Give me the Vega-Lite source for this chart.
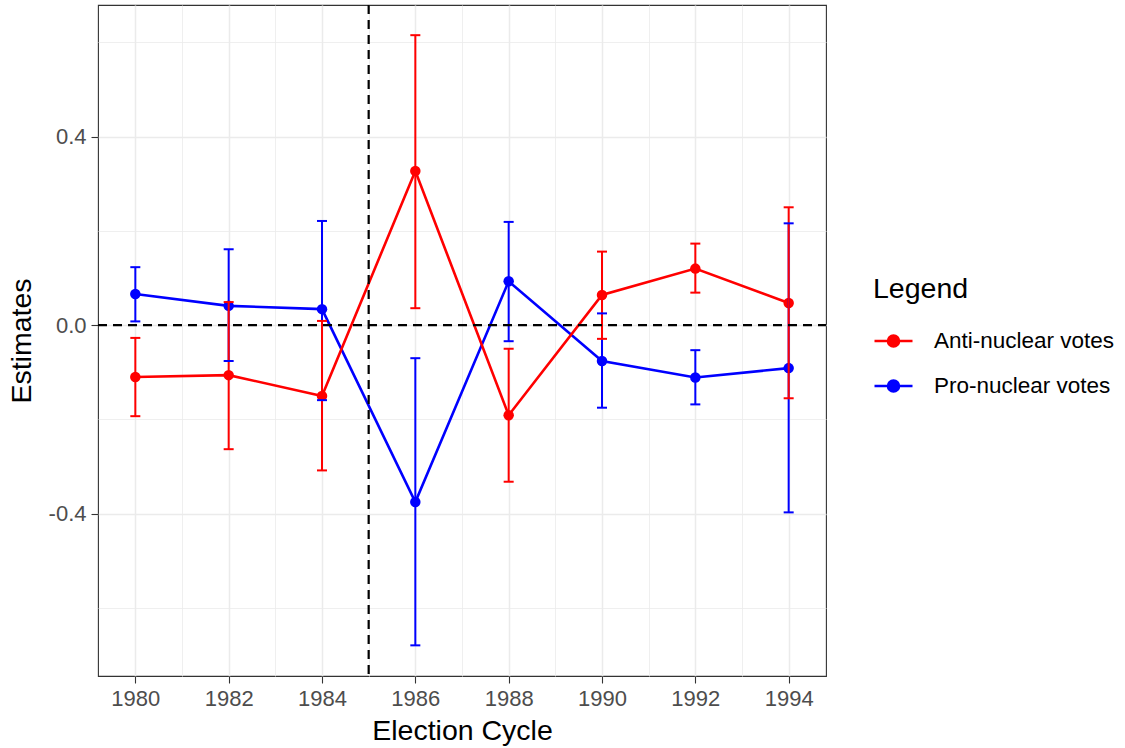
{
  "$schema": "https://vega.github.io/schema/vega-lite/v6.json",
  "width": 728,
  "height": 671,
  "autosize": "none",
  "padding": {"left": 98, "top": 5, "right": 299, "bottom": 72},
  "background": "white",
  "config": {
    "font": "Liberation Sans",
    "view": {"stroke": "#333333", "strokeWidth": 1.1},
    "axis": {
      "domain": false,
      "gridColor": "#EBEBEB",
      "tickColor": "#333333",
      "tickSize": 7,
      "tickWidth": 1.1,
      "labelColor": "#4D4D4D",
      "labelFont": "Liberation Sans",
      "labelFontSize": 22,
      "titleFont": "Liberation Sans",
      "titleFontSize": 28.5,
      "titleFontWeight": "normal",
      "titleColor": "black"
    }
  },
  "data": {
    "values": [
      {"year": 1980, "series": "Pro-nuclear votes", "est": 0.066, "lo": 0.008, "hi": 0.123},
      {"year": 1982, "series": "Pro-nuclear votes", "est": 0.041, "lo": -0.076, "hi": 0.161},
      {"year": 1984, "series": "Pro-nuclear votes", "est": 0.034, "lo": -0.159, "hi": 0.221},
      {"year": 1986, "series": "Pro-nuclear votes", "est": -0.375, "lo": -0.679, "hi": -0.070},
      {"year": 1988, "series": "Pro-nuclear votes", "est": 0.093, "lo": -0.034, "hi": 0.219},
      {"year": 1990, "series": "Pro-nuclear votes", "est": -0.076, "lo": -0.175, "hi": 0.025},
      {"year": 1992, "series": "Pro-nuclear votes", "est": -0.111, "lo": -0.168, "hi": -0.053},
      {"year": 1994, "series": "Pro-nuclear votes", "est": -0.091, "lo": -0.397, "hi": 0.216},
      {"year": 1980, "series": "Anti-nuclear votes", "est": -0.110, "lo": -0.193, "hi": -0.027},
      {"year": 1982, "series": "Anti-nuclear votes", "est": -0.106, "lo": -0.263, "hi": 0.049},
      {"year": 1984, "series": "Anti-nuclear votes", "est": -0.150, "lo": -0.308, "hi": 0.009},
      {"year": 1986, "series": "Anti-nuclear votes", "est": 0.327, "lo": 0.036, "hi": 0.615},
      {"year": 1988, "series": "Anti-nuclear votes", "est": -0.191, "lo": -0.332, "hi": -0.050},
      {"year": 1990, "series": "Anti-nuclear votes", "est": 0.064, "lo": -0.029, "hi": 0.156},
      {"year": 1992, "series": "Anti-nuclear votes", "est": 0.120, "lo": 0.069, "hi": 0.173},
      {"year": 1994, "series": "Anti-nuclear votes", "est": 0.047, "lo": -0.155, "hi": 0.250}
    ]
  },
  "encoding": {
    "x": {
      "field": "year",
      "type": "quantitative",
      "scale": {"domain": [1979.2, 1994.8], "nice": false, "zero": false},
      "axis": {
        "title": "Election Cycle",
        "values": [1980, 1981, 1982, 1983, 1984, 1985, 1986, 1987, 1988, 1989, 1990, 1991, 1992, 1993, 1994],
        "labelExpr": "datum.value % 2 == 0 ? '' + datum.value : ''",
        "labelPadding": 5,
        "titlePadding": 7,
        "gridWidth": {"condition": {"test": "datum.value % 2 == 1", "value": 0.8}, "value": 1.5},
        "tickOpacity": {"condition": {"test": "datum.value % 2 == 1", "value": 0}, "value": 1}
      }
    },
    "color": {
      "field": "series",
      "type": "nominal",
      "scale": {"domain": ["Anti-nuclear votes", "Pro-nuclear votes"], "range": ["#FF0000", "#0000FF"]},
      "legend": {
        "title": "Legend",
        "orient": "none",
        "legendX": 775,
        "legendY": 270,
        "padding": 0,
        "titleFont": "Liberation Sans",
        "titleFontSize": 28.5,
        "titleFontWeight": "normal",
        "titleColor": "black",
        "titlePadding": 17,
        "labelFont": "Liberation Sans",
        "labelFontSize": 22.5,
        "labelColor": "black",
        "labelLimit": 400,
        "labelOffset": 20,
        "rowPadding": 13,
        "symbolType": "M-1,0L1,0M0.29,0A0.29,0.29,0,1,1,-0.29,0A0.29,0.29,0,1,1,0.29,0Z",
        "symbolSize": 1444,
        "symbolStrokeWidth": 2.6,
        "symbolOpacity": 1,
        "encode": {
          "symbols": {
            "update": {
              "fill": {"scale": "color", "field": "value"},
              "stroke": {"scale": "color", "field": "value"},
              "opacity": {"value": 1}
            }
          }
        }
      }
    }
  },
  "layer": [
    {
      "mark": {"type": "line", "strokeWidth": 2.6},
      "encoding": {
        "y": {
          "field": "est",
          "type": "quantitative",
          "scale": {"domain": [-0.744, 0.679], "nice": false, "zero": false},
          "axis": {
            "title": "Estimates",
            "values": [-0.6, -0.4, -0.2, 0, 0.2, 0.4, 0.6],
            "labelExpr": "(abs(abs(datum.value) - 0.4) < 0.01 || abs(datum.value) < 0.01) ? replace(format(datum.value, '.1f'), '\u2212', '-') : ''",
            "labelPadding": 5,
            "titlePadding": 12,
            "gridWidth": {"condition": {"test": "abs(abs(datum.value) - 0.4) < 0.01 || abs(datum.value) < 0.01", "value": 1.5}, "value": 0.8},
            "tickOpacity": {"condition": {"test": "abs(abs(datum.value) - 0.4) < 0.01 || abs(datum.value) < 0.01", "value": 1}, "value": 0}
          }
        }
      }
    },
    {
      "mark": {"type": "point", "filled": true, "opacity": 1, "size": 110},
      "encoding": {
        "y": {"field": "est", "type": "quantitative"}
      }
    },
    {
      "mark": {"type": "rule", "strokeWidth": 2},
      "encoding": {
        "y": {"field": "lo", "type": "quantitative"},
        "y2": {"field": "hi"}
      }
    },
    {
      "mark": {"type": "tick", "orient": "horizontal", "size": 10, "thickness": 2, "opacity": 1},
      "encoding": {
        "y": {"field": "lo", "type": "quantitative"}
      }
    },
    {
      "mark": {"type": "tick", "orient": "horizontal", "size": 10, "thickness": 2, "opacity": 1},
      "encoding": {
        "y": {"field": "hi", "type": "quantitative"}
      }
    },
    {
      "data": {"values": [{"xint": 1985}]},
      "mark": {"type": "rule", "color": "black", "strokeWidth": 2.2, "strokeDash": [9, 6]},
      "encoding": {
        "x": {"field": "xint", "type": "quantitative"},
        "color": {"value": "black"}
      }
    },
    {
      "data": {"values": [{"yint": 0}]},
      "mark": {"type": "rule", "color": "black", "strokeWidth": 2.2, "strokeDash": [9, 6]},
      "encoding": {
        "y": {"field": "yint", "type": "quantitative"},
        "x": {"value": 0},
        "x2": {"value": 728},
        "color": {"value": "black"}
      }
    }
  ]
}
